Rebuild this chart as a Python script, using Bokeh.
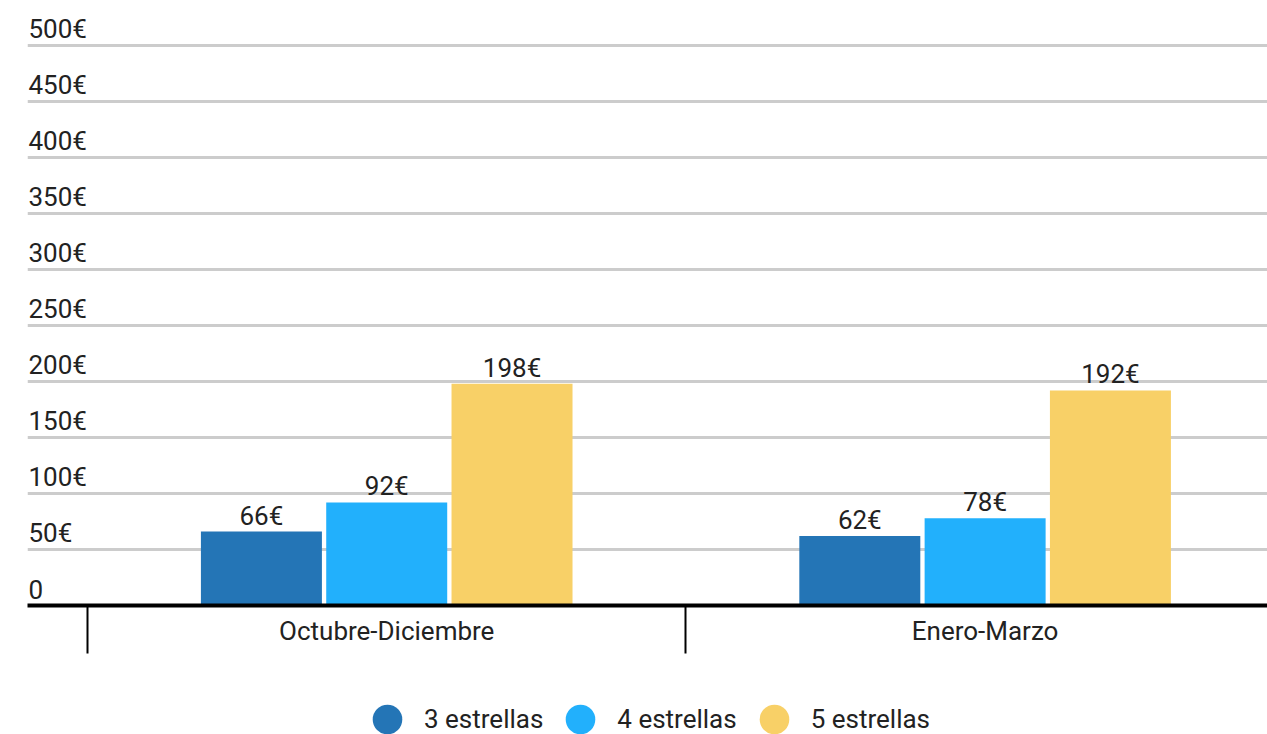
from bokeh.plotting import figure
from bokeh.layouts import column
from bokeh.models import ColumnDataSource, FixedTicker, LinearAxis, Range1d, Legend, LegendItem
from bokeh.transform import dodge
from bokeh.core.properties import value
from bokeh.embed import file_html
from bokeh.resources import INLINE

# ---- data ----
categories = ["Octubre-Diciembre", "Enero-Marzo"]
series_names = ["3 estrellas", "4 estrellas", "5 estrellas"]
tres_estrellas = [66, 62]
cuatro_estrellas = [92, 78]
cinco_estrellas = [198, 192]
y_ticks = [0, 50, 100, 150, 200, 250, 300, 350, 400, 450, 500]
y_tick_labels = ["0", "50€", "100€", "150€", "200€", "250€", "300€", "350€", "400€", "450€", "500€"]

# ---- style ----
colors = ["#2475b6", "#22b0fc", "#f8d067"]
FONT = "Roboto"
FS = "26px"
TXT = "#222222"

x_start, x_end = -0.6003, 1.4719
bar_w = 0.2022
offsets = [-0.2094, 0.0, 0.2094]

p = figure(width=1267, height=655,
           x_range=Range1d(x_start, x_end), y_range=Range1d(0, 533.0),
           x_axis_location=None, y_axis_location=None,
           min_border_left=27, min_border_right=0, min_border_top=8, min_border_bottom=50,
           output_backend="svg", toolbar_location=None)
p.outline_line_color = None
p.background_fill_color = "white"
p.border_fill_color = "white"

p.xgrid.visible = False
p.ygrid.ticker = FixedTicker(ticks=y_ticks)
p.ygrid.grid_line_color = "#cccccc"
p.ygrid.grid_line_width = 3

src = ColumnDataSource(dict(
    x=list(range(len(categories))),
    s0=tres_estrellas, s1=cuatro_estrellas, s2=cinco_estrellas,
    l0=[f"{v}€" for v in tres_estrellas],
    l1=[f"{v}€" for v in cuatro_estrellas],
    l2=[f"{v}€" for v in cinco_estrellas],
))

for i, name in enumerate(series_names):
    p.vbar(x=dodge("x", offsets[i], range=p.x_range), top=f"s{i}", width=bar_w, bottom=0,
           source=src, fill_color=colors[i], line_color=None)
    p.text(x=dodge("x", offsets[i], range=p.x_range), y=f"s{i}", text=f"l{i}", source=src,
           text_align="center", text_baseline="alphabetic", y_offset=-16,
           text_font=value(FONT), text_font_size=FS, text_color=TXT)

# y tick labels drawn inside the plot, above gridlines
p.text(x=[x_start] * len(y_ticks), y=y_ticks, text=y_tick_labels,
       text_align="left", text_baseline="alphabetic", x_offset=1, y_offset=-16,
       text_font=value(FONT), text_font_size=FS, text_color=TXT)

# x axis with category labels and separators
xaxis = LinearAxis(ticker=FixedTicker(ticks=list(range(len(categories))),
                                      minor_ticks=[i - 0.5 for i in range(len(categories) + 1)]))
xaxis.major_label_overrides = {i: c for i, c in enumerate(categories)}
xaxis.major_tick_line_color = None
xaxis.major_tick_in = 0
xaxis.major_tick_out = 0
xaxis.minor_tick_in = 0
xaxis.minor_tick_out = 48
xaxis.minor_tick_line_color = "black"
xaxis.minor_tick_line_width = 2
xaxis.axis_line_color = "black"
xaxis.axis_line_width = 4
xaxis.major_label_standoff = -38
xaxis.major_label_text_font = FONT
xaxis.major_label_text_font_size = FS
xaxis.major_label_text_color = TXT
p.add_layout(xaxis, "below")

# legend figure
lf = figure(width=1267, height=79, x_range=Range1d(0, 1), y_range=Range1d(0, 1),
            x_axis_location=None, y_axis_location=None,
            min_border_left=27, min_border_right=0, min_border_top=0, min_border_bottom=0,
            output_backend="svg", toolbar_location=None)
lf.outline_line_color = None
lf.xgrid.visible = False
lf.ygrid.visible = False
items = []
nan = float("nan")
for i, name in enumerate(series_names):
    # legend proxy: a single undrawable (NaN) point
    r = lf.scatter(x=[nan], y=[nan], size=32, marker="circle", fill_color=colors[i], line_color=None)
    items.append(LegendItem(label=name, renderers=[r]))

legend = Legend(items=items, location=(323, -25), orientation="horizontal",
                glyph_width=74, glyph_height=80, label_standoff=0, spacing=0,
                padding=0, margin=0, border_line_color=None, background_fill_alpha=0,
                label_text_font=FONT, label_text_font_size=FS, label_text_color=TXT)
lf.add_layout(legend)

layout = column(p, lf, spacing=0)
open("out.html", "w").write(file_html(layout, INLINE))
